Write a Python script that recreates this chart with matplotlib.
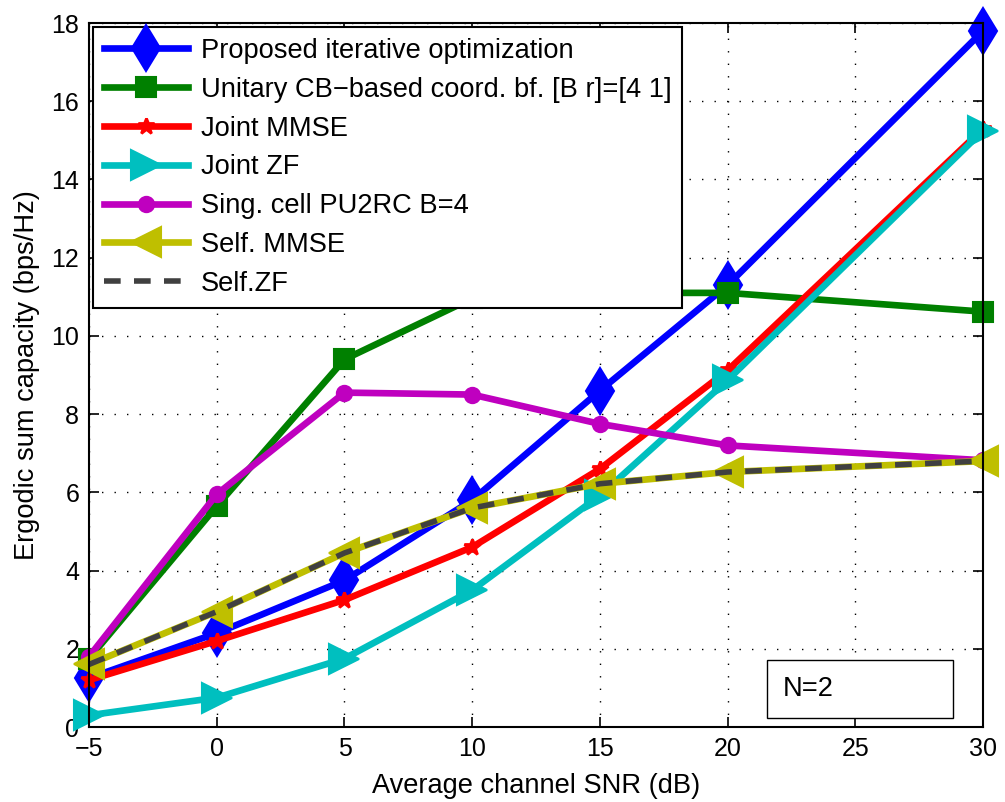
import matplotlib
matplotlib.use("Agg")
import matplotlib.pyplot as plt
from matplotlib.patches import Rectangle

plt.rcParams['font.family'] = ['Liberation Sans', 'DejaVu Sans']

snr = [-5, 0, 5, 10, 15, 20, 30]
proposed = [1.25, 2.4, 3.75, 5.8, 8.6, 11.3, 17.8]
unitary_cb = [1.75, 5.65, 9.4, 10.96, 11.1, 11.1, 10.62]
joint_mmse = [1.2, 2.2, 3.25, 4.6, 6.6, 9.12, 15.3]
joint_zf = [0.3, 0.75, 1.75, 3.5, 5.92, 8.87, 15.25]
pu2rc = [1.8, 5.95, 8.55, 8.5, 7.75, 7.2, 6.82]
self_mmse = [1.6, 2.95, 4.45, 5.6, 6.22, 6.52, 6.8]
self_zf = [1.6, 2.95, 4.45, 5.6, 6.22, 6.52, 6.8]

labels = ['Proposed iterative optimization',
          'Unitary CB\u2212based coord. bf. [B r]=[4 1]',
          'Joint MMSE', 'Joint ZF', 'Sing. cell PU2RC B=4',
          'Self. MMSE', 'Self.ZF']
xticks = [-5, 0, 5, 10, 15, 20, 25, 30]
yticks = [0, 2, 4, 6, 8, 10, 12, 14, 16, 18]

fig = plt.figure(figsize=(10.05, 8.02), dpi=100)
ax = fig.add_axes([0.0886, 0.0935, 0.8896, 0.8778])

lw = 4.8
fs = 19.6
ax.plot(snr, proposed, color='#0000FF', lw=lw, marker='d', ms=23, mew=1.5, label=labels[0], clip_on=False)
ax.plot(snr, unitary_cb, color='#008000', lw=lw, marker='s', ms=14, mew=1.5, label=labels[1], clip_on=False)
ax.plot(snr, joint_mmse, color='#FF0000', lw=lw, marker='*', ms=12, mew=2, label=labels[2], clip_on=False)
ax.plot(snr, joint_zf, color='#00BFBF', lw=lw, marker='>', ms=21, mew=1.5, label=labels[3], clip_on=False)
ax.plot(snr, pu2rc, color='#BF00BF', lw=lw, marker='o', ms=11, mew=1.5, label=labels[4], clip_on=False)
ax.plot(snr, self_mmse, color='#BFBF00', lw=lw, marker='<', ms=21, mew=1.5, label=labels[5], clip_on=False)
ax.plot(snr, self_zf, color='#404040', lw=4.0, ls=(0, (3.0, 2.4)), label=labels[6], clip_on=False)

ax.set_xlim(-5, 30)
ax.set_ylim(0, 18)
ax.set_xticks(xticks)
ax.set_yticks(yticks)
ax.tick_params(direction='in', top=True, right=True, length=7, width=1.2, labelsize=18, pad=7)
for s in ax.spines.values():
    s.set_linewidth(1.5)
ax.grid(True, color='black', linestyle=(0, (1, 8)), linewidth=1.0)
ax.set_axisbelow(True)

ax.set_xlabel('Average channel SNR (dB)', fontsize=fs, labelpad=9)
ax.set_ylabel('Ergodic sum capacity (bps/Hz)', fontsize=fs, labelpad=8)

leg = ax.legend(loc='upper left', fontsize=fs, handlelength=3.1, handletextpad=0.45,
                labelspacing=0.47, borderpad=0.4, borderaxespad=0.15,
                fancybox=False, framealpha=1, edgecolor='black')
leg.get_frame().set_linewidth(1.5)

ax.add_patch(Rectangle((0.758, 0.013), 0.208, 0.082, transform=ax.transAxes,
                       facecolor='white', edgecolor='black', lw=1.0, zorder=5))
ax.text(0.776, 0.054, 'N=2', transform=ax.transAxes, fontsize=fs, va='center', ha='left', zorder=6)

fig.savefig('out.png', dpi=100)
